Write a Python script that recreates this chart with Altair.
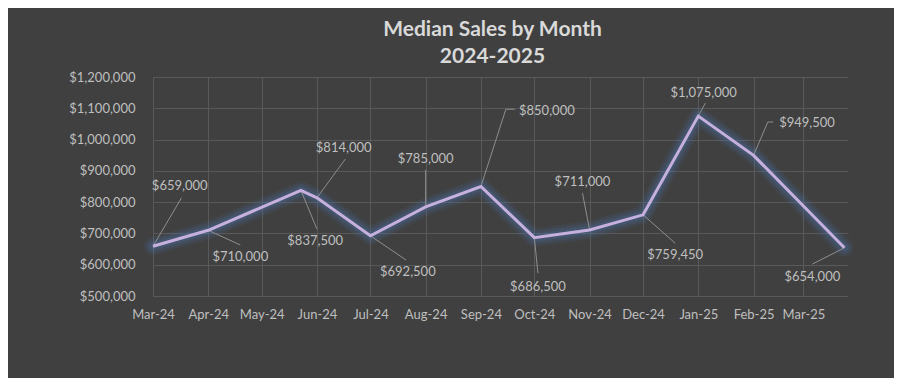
import altair as alt
import pandas as pd

# ---- data ----
point_dates = ["2024-03-01", "2024-04-01", "2024-05-23", "2024-06-01", "2024-07-01",
               "2024-08-01", "2024-09-01", "2024-10-01", "2024-11-01", "2024-12-01",
               "2025-01-01", "2025-02-01", "2025-03-24"]
median_sales = [659000, 710000, 837500, 814000, 692500, 785000, 850000, 686500,
                711000, 759450, 1075000, 949500, 654000]

# data-label anchor positions (in data space)
label_dates = ["2024-03-16", "2024-04-19", "2024-05-31", "2024-06-16", "2024-07-22",
               "2024-08-01", "2024-10-08", "2024-10-03", "2024-10-28", "2024-12-19",
               "2025-01-04", "2025-03-03", "2025-03-06"]
label_values = [851000, 625000, 676000, 973000, 577000, 938000, 1091000, 529000,
                864000, 631000, 1149000, 1053000, 561000]
# leader-line ends (and elbow tails where Excel drew an elbow)
leader_dates = ["2024-03-17", "2024-04-19", "2024-06-01", "2024-06-17", "2024-07-21",
                "2024-08-01", "2024-09-15", "2024-10-03", "2024-10-28", "2024-12-19",
                "2025-01-05", "2025-02-09", "2025-03-06"]
leader_values = [814000, 663000, 714000, 938000, 615000, 903000, 1097000, 573000,
                 829000, 669000, 1117000, 1056000, 602000]
leader_tail_dates = [None, None, None, None, None, None, "2024-09-20", None, None, None,
                     None, "2025-02-12", None]

y_ticks = [500000, 600000, 700000, 800000, 900000, 1000000, 1100000, 1200000]

# ---- tables ----
pts = pd.DataFrame({"date": pd.to_datetime(point_dates), "value": median_sales})
labels = pd.DataFrame({
    "date": pd.to_datetime(label_dates),
    "value": label_values,
    "text": ["${:,}".format(v) for v in median_sales],
})
segs = []
for i in range(len(point_dates)):
    segs.append({"d1": point_dates[i], "v1": median_sales[i],
                 "d2": leader_dates[i], "v2": leader_values[i]})
    if leader_tail_dates[i] is not None:
        segs.append({"d1": leader_dates[i], "v1": leader_values[i],
                     "d2": leader_tail_dates[i], "v2": leader_values[i]})
segs = pd.DataFrame(segs)
for c in ("d1", "d2"):
    segs[c] = pd.to_datetime(segs[c])

FONT = "Lato"
TXT = "#bfbfbf"
GRID = "#595959"

xscale = alt.Scale(domain=[alt.DateTime(year=2024, month=3, date=1),
                           alt.DateTime(year=2025, month=3, date=26)], nice=False)
yscale = alt.Scale(domain=[500000, 1200000], nice=False, zero=False)
xaxis = alt.Axis(format="%b-%y", tickCount=alt.TimeIntervalStep(interval="month", step=1),
                 labelFlush=False, grid=True, domain=False, ticks=False, tickSize=0,
                 labelPadding=12, labelFontSize=13, labelColor=TXT, labelFont=FONT,
                 gridColor=GRID, gridWidth=1, labelOverlap=False)
yaxis = alt.Axis(values=y_ticks, format="$,.0f", grid=True, domain=False, ticks=False,
                 tickSize=0, labelPadding=18, labelFontSize=13, labelColor=TXT,
                 labelFont=FONT, gridColor=GRID, gridWidth=1)


def X(f):
    return alt.X(f, type="temporal", scale=xscale, axis=xaxis, title=None)


def Y(f):
    return alt.Y(f, type="quantitative", scale=yscale, axis=yaxis, title=None)


base = alt.Chart(pts)
glow = [
    base.mark_line(stroke="#4a72aa", strokeWidth=w, opacity=o, strokeJoin="round",
                   strokeCap="round").encode(x=X("date"), y=Y("value"))
    for w, o in [(18, 0.12), (13, 0.16), (8, 0.22)]
]
line = base.mark_line(stroke="#c6b0de", strokeWidth=3, strokeJoin="miter").encode(
    x=X("date"), y=Y("value"))

leaders = alt.Chart(segs).mark_rule(stroke="#8e8e8e", strokeWidth=1).encode(
    x=X("d1"), y=Y("v1"), x2="d2", y2="v2")

texts = alt.Chart(labels).mark_text(font=FONT, fontSize=13, color=TXT,
                                    align="center", baseline="middle").encode(
    x=X("date"), y=Y("value"), text="text:N")

chart = alt.layer(*glow, leaders, line, texts).properties(
    width=695, height=219,
    padding={"left": 145, "top": 69, "right": 46, "bottom": 82},
    autosize=alt.AutoSizeParams(type="none"),
    background="#404040",
    title=alt.TitleParams(["Median Sales by Month", "2024-2025"], font=FONT,
                          fontSize=21, fontWeight="bold", color="#d9d9d9",
                          lineHeight=27, anchor="middle", dx=-8, offset=4),
).configure_view(stroke=None)

chart.save("out.html", embed_options={"renderer": "svg", "actions": False})
